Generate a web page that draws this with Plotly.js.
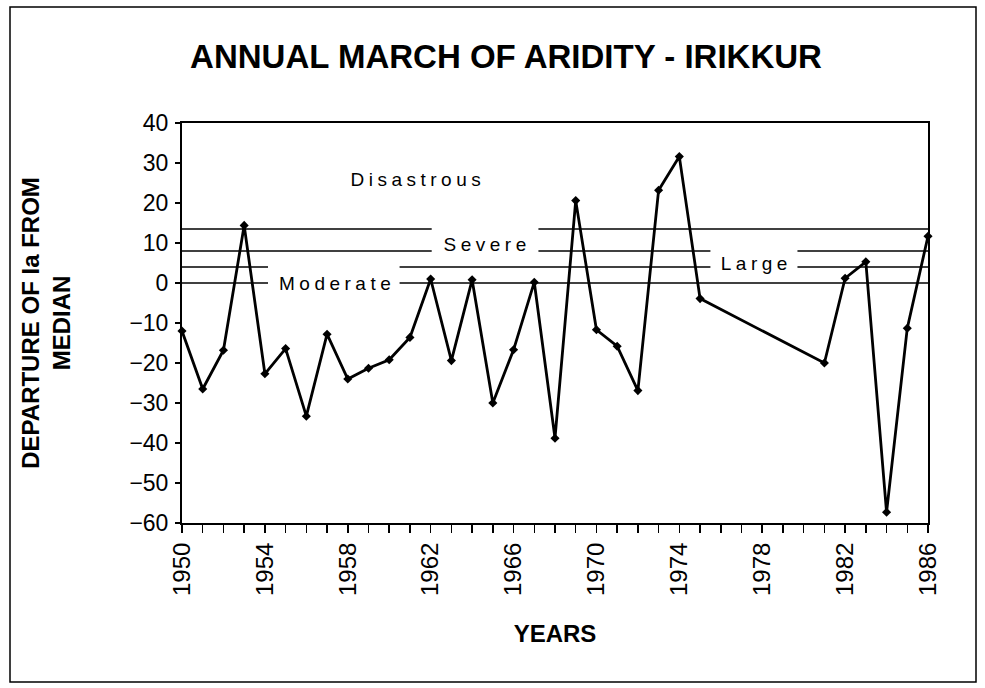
<!DOCTYPE html>
<html>
<head>
<meta charset="utf-8">
<script src="https://cdn.plot.ly/plotly-3.0.1.min.js"></script>
<style>
  html, body { margin: 0; padding: 0; background: #fff; }
  #chart { width: 985px; height: 688px; }
</style>
</head>
<body>
<div id="chart"></div>
<script>
// ---- data ----
const years = [1950, 1951, 1952, 1953, 1954, 1955, 1956, 1957, 1958, 1959, 1960,
               1961, 1962, 1963, 1964, 1965, 1966, 1967, 1968, 1969, 1970, 1971,
               1972, 1973, 1974, 1975, 1981, 1982, 1983, 1984, 1985, 1986];
const departure = [-12, -26.5, -16.8, 14.4, -22.7, -16.4, -33.3, -12.8, -24, -21.3, -19.2,
                   -13.6, 1, -19.4, 0.8, -30, -16.7, 0.2, -38.8, 20.6, -11.7, -15.8,
                   -26.9, 23.2, 31.6, -3.9, -20, 1.2, 5.3, -57.3, -11.3, 11.7];
const tickYears = [1950, 1954, 1958, 1962, 1966, 1970, 1974, 1978, 1982, 1986];
// aridity class boundaries (departure of Ia from median)
const thresholds = [0, 4, 8, 13.5];
const classLabels = ["Moderate", "Large", "Severe", "Disastrous"];

// ---- layout helpers (positions only) ----
// pieces of each boundary line, leaving gaps where the labels sit, as [from, to] year spans
const segments = {
  0:    [[1950, 1954.15], [1960.5, 1986]],
  4:    [[1950, 1954.15], [1960.5, 1975.5], [1979.7, 1986]],
  8:    [[1950, 1962.05], [1967.2, 1975.5], [1979.7, 1986]],
  13.5: [[1950, 1962.05], [1967.2, 1986]]
};
const labelPos = {
  "Moderate":   [1957.5, 0],
  "Large":      [1977.7, 4.8],
  "Severe":     [1964.7, 9.75],
  "Disastrous": [1961.4, 26]
};

const shapes = [];
thresholds.forEach(t => {
  segments[t].forEach(s => {
    shapes.push({type: 'line', xref: 'x', yref: 'y', x0: s[0], x1: s[1], y0: t, y1: t,
                 line: {color: '#000', width: 1.7}, layer: 'below'});
  });
});
// outer frame
shapes.push({type: 'rect', xref: 'paper', yref: 'paper',
             x0: (10 - 182) / 746, x1: (976 - 182) / 746,
             y0: (523 - 682) / 400, y1: (523 - 7) / 400,
             line: {color: '#000', width: 1.5}, fillcolor: 'rgba(0,0,0,0)'});

const font = 'Liberation Sans, Arial, sans-serif';
const annotations = classLabels.map(name => ({
  x: labelPos[name][0], y: labelPos[name][1], xref: 'x', yref: 'y',
  text: name, showarrow: false, xanchor: 'center', yanchor: 'middle',
  font: {family: font, size: 19, color: '#000'},
  bgcolor: 'rgba(0,0,0,0)'
}));

const trace = {
  x: years, y: departure, type: 'scatter', mode: 'lines+markers',
  line: {color: '#000', width: 2.8},
  marker: {symbol: 'diamond', size: 7, color: '#000'},
  cliponaxis: false, hoverinfo: 'x+y'
};

const layout = {
  width: 985, height: 688,
  margin: {l: 182, r: 57, t: 123, b: 165},
  paper_bgcolor: '#fff', plot_bgcolor: '#fff',
  showlegend: false,
  title: {
    text: '<b>ANNUAL MARCH OF ARIDITY - IRIKKUR</b>',
    font: {family: font, size: 33, color: '#000'},
    x: (506 - 182) / 746, xref: 'paper', xanchor: 'center',
    y: 1 - 56 / 688, yref: 'container', yanchor: 'middle'
  },
  xaxis: {
    range: [1950, 1986], tickmode: 'array', tickvals: tickYears,
    ticktext: tickYears.map(String), tickangle: -90,
    ticks: 'outside', ticklen: 8, tickwidth: 1.5, tickcolor: '#000',
    minor: {dtick: 1, tick0: 1950, ticks: 'outside', ticklen: 8, tickwidth: 1.5, tickcolor: '#000'},
    showgrid: false, zeroline: false,
    showline: true, linecolor: '#000', linewidth: 2, mirror: true,
    tickfont: {family: font, size: 24, color: '#000'},
    title: {text: '<b>YEARS</b>', font: {family: font, size: 24, color: '#000'}, standoff: 30},
    automargin: false
  },
  yaxis: {
    range: [-60, 40], dtick: 10, tick0: 0,
    ticks: 'outside', ticklen: 5, tickwidth: 1.5, tickcolor: '#000',
    showgrid: false, zeroline: false,
    showline: true, linecolor: '#000', linewidth: 2, mirror: true,
    tickfont: {family: font, size: 23, color: '#000'},
    ticklabelstandoff: 2,
    title: {text: '<b>DEPARTURE OF Ia FROM<br>MEDIAN</b>', font: {family: font, size: 24, color: '#000'}, standoff: 52},
    automargin: false
  },
  shapes: shapes,
  annotations: annotations
};

Plotly.newPlot('chart', [trace], layout, {displayModeBar: false, staticPlot: true}).then(() => {
  document.querySelectorAll('.annotation-text').forEach(el => {
    el.style.letterSpacing = '4.5px';
  });
});
</script>
</body>
</html>
